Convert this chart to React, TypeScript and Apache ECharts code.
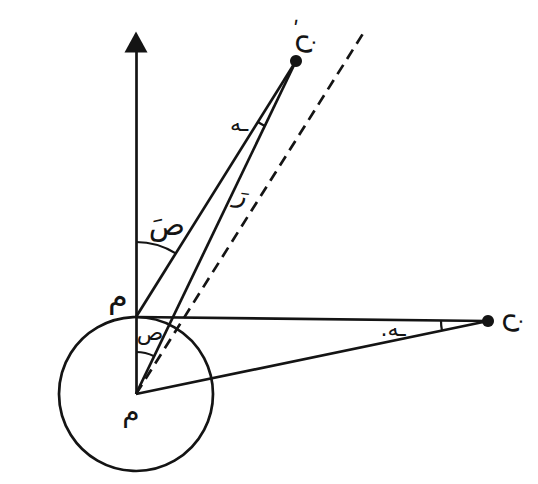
import React, { useEffect, useRef } from "react";
import * as echarts from "echarts";

// Geometry (units = pixels, origin at the circle centre م, y upwards)
const CENTER: number[] = [0, 0];
const RADIUS = 77;
const POINT_A: number[] = [0, 77];
const POINT_N1: number[] = [160, 333]; // نَ
const POINT_N: number[] = [352, 73]; // ن
const DASH_END: number[] = [228, 362];
const AXIS_TOP: number[] = [0, 342];
const ARROW_HEAD: number[] = [0, 352];

const solidSegments: number[][][] = [
  [CENTER, AXIS_TOP],
  [POINT_A, POINT_N1],
  [CENTER, POINT_N1],
  [POINT_A, POINT_N],
  [CENTER, POINT_N],
];
const dashedSegments: number[][][] = [[CENTER, DASH_END]];
const dots: number[][] = [POINT_N1, POINT_N];

const angleArcs = [
  { vertex: POINT_A, from: AXIS_TOP, to: POINT_N1, r: 75 },
  { vertex: CENTER, from: AXIS_TOP, to: POINT_N1, r: 42 },
  { vertex: POINT_N1, from: CENTER, to: POINT_A, r: 72 },
  { vertex: POINT_N, from: CENTER, to: POINT_A, r: 47 },
];

const labelTexts = ["صَ", "ص", "م", "م", "ـه", "رَ", "ن", "ن", ".ـه", "ʹ"];
const labelPos: number[][] = [
  [31, 170],
  [14, 62],
  [-18, 98],
  [-5, -17],
  [103, 271],
  [106, 199],
  [175, 350],
  [382, 71],
  [257, 66],
  [160, 365],
];
const labelSizes = [30, 22, 32, 28, 22, 26, 30, 30, 22, 22];
const labelRotations = [0, 0, 0, 0, 0, -0.35, -Math.PI / 2, -Math.PI / 2, 0, 0];

const INK = "#141414";
const FONT = "DejaVu Sans";

export default function App() {
  const ref = useRef<HTMLDivElement>(null);
  useEffect(() => {
    if (!ref.current) return;
    const chart = echarts.init(ref.current, undefined, { renderer: "svg" });

    const arcRender = (_p: any, api: any) => {
      const children: any[] = [];
      const c = api.coord(CENTER);
      const r = api.size([RADIUS, 0])[0];
      children.push({
        type: "circle",
        shape: { cx: c[0], cy: c[1], r },
        style: { fill: "none", stroke: INK, lineWidth: 2.7 },
      });
      angleArcs.forEach((a) => {
        const v = api.coord(a.vertex);
        const f = api.coord(a.from);
        const t = api.coord(a.to);
        let a1 = Math.atan2(f[1] - v[1], f[0] - v[0]);
        let a2 = Math.atan2(t[1] - v[1], t[0] - v[0]);
        let d = a2 - a1;
        while (d < 0) d += Math.PI * 2;
        if (d > Math.PI) {
          const tmp = a1;
          a1 = a2;
          a2 = tmp;
          d = Math.PI * 2 - d;
        }
        const rr = api.size([a.r, 0])[0];
        children.push({
          type: "arc",
          shape: { cx: v[0], cy: v[1], r: rr, startAngle: a1, endAngle: a1 + d, clockwise: true },
          style: { fill: "none", stroke: INK, lineWidth: 2.2 },
        });
      });
      return { type: "group", children };
    };

    const textRender = (params: any, api: any) => {
      const i = params.dataIndex;
      const p = api.coord(labelPos[i]);
      return {
        type: "text",
        x: p[0],
        y: p[1],
        rotation: labelRotations[i],
        style: {
          text: labelTexts[i],
          font: `${labelSizes[i]}px "${FONT}"`,
          fill: INK,
          align: "center",
          verticalAlign: "middle",
        },
      };
    };

    chart.setOption({
      animation: false,
      backgroundColor: "#ffffff",
      grid: { left: 0, right: 0, top: 0, bottom: 0 },
      xAxis: { type: "value", min: -136, max: 402, show: false },
      yAxis: { type: "value", min: -90, max: 394, show: false },
      series: [
        {
          type: "lines",
          coordinateSystem: "cartesian2d",
          silent: true,
          lineStyle: { color: INK, width: 2.7, opacity: 1, type: "solid" },
          data: solidSegments.map((s) => ({ coords: s })),
        },
        {
          type: "lines",
          coordinateSystem: "cartesian2d",
          silent: true,
          lineStyle: { color: INK, width: 2.7, opacity: 1, type: [11, 7] },
          data: dashedSegments.map((s) => ({ coords: s })),
        },
        {
          type: "custom",
          coordinateSystem: "cartesian2d",
          silent: true,
          renderItem: arcRender,
          data: [[0, 0]],
        },
        {
          type: "scatter",
          silent: true,
          symbol: "circle",
          symbolSize: 12,
          itemStyle: { color: INK, opacity: 1 },
          data: dots,
        },
        {
          type: "scatter",
          silent: true,
          symbol: "triangle",
          symbolSize: [23, 21],
          itemStyle: { color: INK, opacity: 1 },
          data: [ARROW_HEAD],
        },
        {
          type: "custom",
          coordinateSystem: "cartesian2d",
          silent: true,
          renderItem: textRender,
          data: labelPos,
        },
      ],
    });
    return () => chart.dispose();
  }, []);
  return (
    <div
      ref={ref}
      style={{ position: "fixed", left: 0, top: 0, width: 538, height: 484 }}
    />
  );
}
